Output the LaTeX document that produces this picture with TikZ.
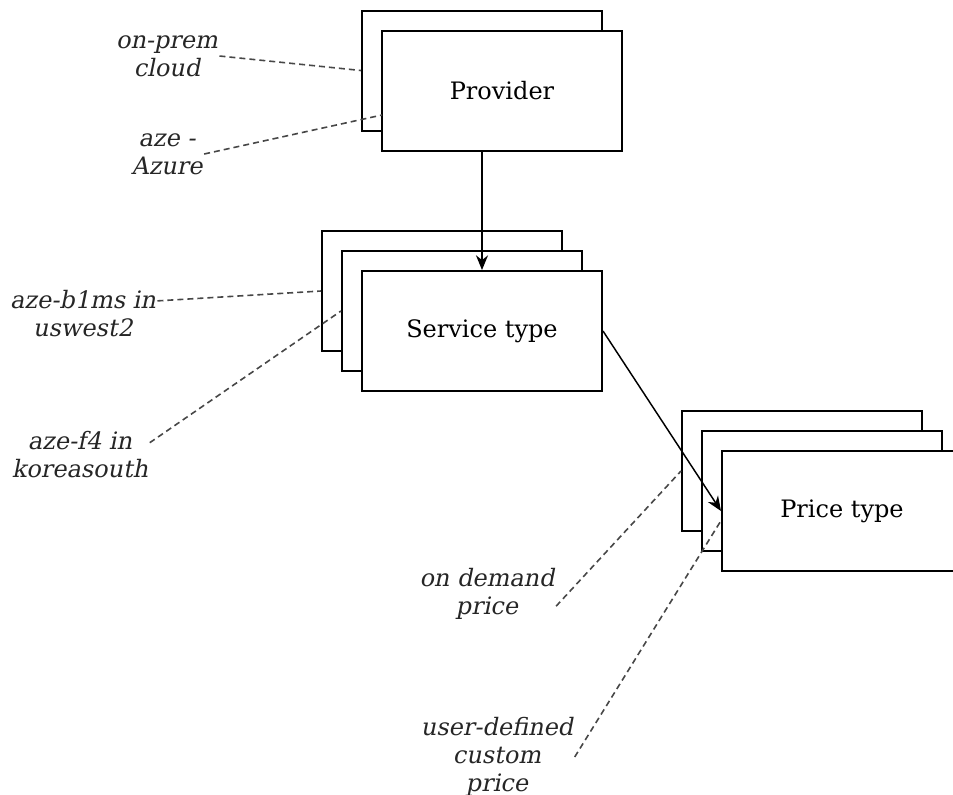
\documentclass[tikz,border=0pt]{standalone}
\usepackage{fontspec}
\setmainfont{DejaVu Serif}
\newfontfamily\notefont[FakeSlant=0.2]{DejaVu Serif}
\usetikzlibrary{arrows.meta}

\tikzset{
  card/.style={draw, fill=white, line width=1.5pt, minimum width=180pt,
    minimum height=90pt, inner sep=0pt, font=\fontsize{18pt}{20pt}\selectfont},
  note/.style={align=center, inner sep=1pt, text=black!85,
    font=\fontsize{18pt}{21pt}\notefont},
  link/.style={line width=1.1pt, -{Stealth[length=11pt,width=9pt]}},
  hint/.style={line width=1.2pt, black!72, dash pattern=on 4.5pt off 3pt}
}

\begin{document}
\begin{tikzpicture}[x=0.75pt,y=-0.75pt]
  \useasboundingbox (0,0) rectangle (953,794);
  % stacked cards
  \node[card] (prov1) at (482,70.5) {};
  \node[card] (prov2) at (502,90.5) {Provider};
  \node[card] (svc1) at (442,291) {};
  \node[card] (svc2) at (462,311) {};
  \node[card] (svc3) at (482,331) {Service type};
  \node[card] (price1) at (802,471) {};
  \node[card] (price2) at (822,491) {};
  \node[card] (price3) at (842,511) {Price type};
  % notes
  \node[note] (onprem) at (167,56) {on-prem\\cloud};
  \node[note] (azure) at (167,154) {aze -\\Azure};
  \node[note] (b1ms) at (83,314) {aze-b1ms in\\uswest2};
  \node[note] (f4) at (80,455) {aze-f4 in\\koreasouth};
  \node[note] (ondemand) at (487,594) {on demand\\price};
  \node[note] (custom) at (497,757) {user-defined\\custom\\price};
  \coordinate (azureend) at (382,115);
  \coordinate (customend) at (722,519);
  \begin{scope}[link]
    \draw (prov2.south -| svc3.north) -- (svc3.north);
    \draw (svc3.east) -- (price3.west);
  \end{scope}
  \begin{scope}[hint]
    \draw (onprem.east) -- (prov1.west);
    \draw (azure.east) -- (azureend);
    \draw (b1ms.10) -- (svc1.west);
    \draw (f4.10) -- (svc2.west);
    \draw (ondemand.-10) -- (price1.west);
    \draw (custom.east) -- (customend);
  \end{scope}
\end{tikzpicture}
\end{document}
